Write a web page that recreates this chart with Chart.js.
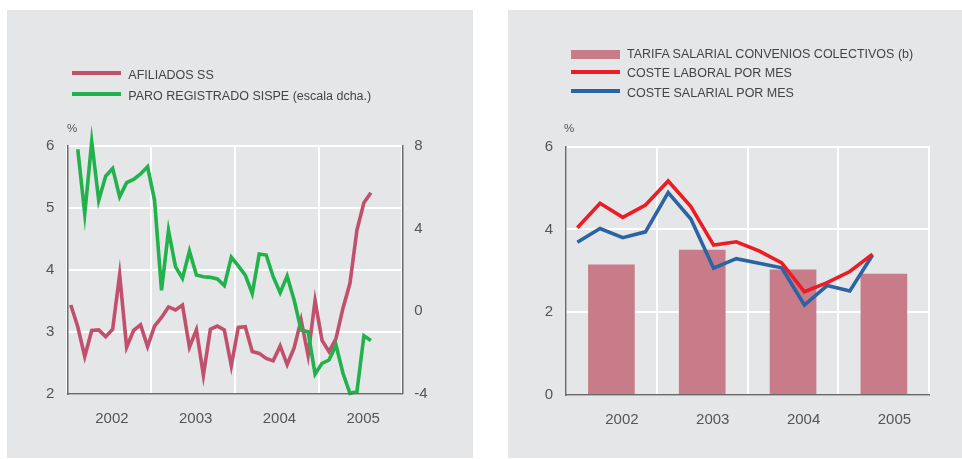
<!DOCTYPE html>
<html>
<head>
<meta charset="utf-8">
<script src="https://cdn.jsdelivr.net/npm/chart.js@4/dist/chart.umd.min.js"></script>
<style>
  body { margin: 0; background: #fff; width: 962px; height: 459px; position: relative; overflow: hidden;
         font-family: "Liberation Sans", Arial, sans-serif; }
  .panel { position: absolute; background: #e5e6e8; }
  .panel canvas { position: absolute; left: 0; top: 0; }
  .sw { position: absolute; width: 49px; }
  .lbl { position: absolute; font-size: 12.5px; line-height: 16px; color: #444; white-space: nowrap; }
  .pct { position: absolute; font-size: 11.5px; line-height: 16px; color: #555; }
</style>
</head>
<body>
<div class="panel" id="p1" style="left:7px;top:10px;width:466px;height:448px">
  <canvas id="c1" width="466" height="448"></canvas>
  <div class="sw" style="left:65px;top:61.3px;height:4px;background:#c0506c"></div>
  <div class="lbl" style="left:121.3px;top:57px">AFILIADOS SS</div>
  <div class="sw" style="left:65px;top:81.5px;height:4px;background:#22b24b"></div>
  <div class="lbl" style="left:121.3px;top:77.6px">PARO REGISTRADO SISPE (escala dcha.)</div>
  <div class="pct" style="left:60px;top:110px">%</div>
</div>
<div class="panel" id="p2" style="left:508px;top:10px;width:454px;height:448px">
  <canvas id="c2" width="454" height="448"></canvas>
  <div class="sw" style="left:63px;top:40px;height:8.5px;background:#c87c89"></div>
  <div class="lbl" style="left:119px;top:36.4px">TARIFA SALARIAL CONVENIOS COLECTIVOS (b)</div>
  <div class="sw" style="left:63px;top:59.7px;height:4px;background:#ed1c24"></div>
  <div class="lbl" style="left:119px;top:55.4px">COSTE LABORAL POR MES</div>
  <div class="sw" style="left:63px;top:79px;height:4px;background:#2b63a3"></div>
  <div class="lbl" style="left:119px;top:75.4px">COSTE SALARIAL POR MES</div>
  <div class="pct" style="left:56px;top:110px">%</div>
</div>
<script>
// años del eje x
const yearLabels = ["2002", "2003", "2004", "2005"];

// gráfico izquierdo: datos mensuales ene-2002 .. ago-2005
const afiliados = [3.43, 3.08, 2.6, 3.02, 3.03, 2.92, 3.04, 3.92, 2.75, 3.02, 3.11, 2.76,
  3.09, 3.23, 3.4, 3.35, 3.43, 2.75, 3.03, 2.3, 3.04, 3.09, 3.03, 2.45,
  3.07, 3.08, 2.68, 2.65, 2.57, 2.53, 2.77, 2.47, 2.74, 3.19, 2.62, 3.5,
  2.86, 2.68, 2.89, 3.38, 3.78, 4.64, 5.08, 5.24];
const paroSispe = [null, 7.83, 4.7, 8.2, 5.35, 6.53, 6.9, 5.53, 6.21, 6.37, 6.63, 6.98,
  5.37, 1.0, 3.9, 2.15, 1.58, 2.9, 1.74, 1.66, 1.63, 1.55, 1.23, 2.6,
  2.18, 1.74, 0.85, 2.76, 2.71, 1.66, 0.89, 1.69, 0.53, -0.92, -1.0, -3.05,
  -2.53, -2.37, -1.65, -3.01, -3.98, -3.9, -1.2, -1.43];

// gráfico derecho: tarifa anual y costes trimestrales (I-2002 .. II-2005)
const tarifaSalarial = [3.14, 3.5, 3.02, 2.92];
const costeLaboral = [4.04, 4.63, 4.29, 4.59, 5.17, 4.55, 3.62, 3.70, 3.48, 3.19, 2.49, 2.71, 2.98, 3.40];
const costeSalarial = [3.69, 4.02, 3.80, 3.94, 4.89, 4.25, 3.06, 3.29, 3.18, 3.07, 2.17, 2.64, 2.51, 3.38];

const tickFont = { family: "'Liberation Sans', Arial, sans-serif", size: 15 };
const tickColor = "#555";
const gridWhite = "#ffffff";
const axisColor = "#6a6a6a";

const toPoints = (arr) => arr.map((v, i) => ({ x: i + 0.5, y: v }));
const yearTick = (per) => (v) => {
  const k = (v - per / 2) / per;
  return Number.isInteger(k) && yearLabels[k] ? yearLabels[k] : "";
};

new Chart(document.getElementById("c1"), {
  type: "line",
  data: {
    datasets: [
      { label: "PARO REGISTRADO SISPE (escala dcha.)", data: toPoints(paroSispe), yAxisID: "y1",
        borderColor: "#22b24b", borderWidth: 3.6, pointRadius: 0, tension: 0, clip: false,
        borderJoinStyle: "miter", spanGaps: false, order: 0 },
      { label: "AFILIADOS SS", data: toPoints(afiliados), yAxisID: "y",
        borderColor: "#c0506c", borderWidth: 3.6, pointRadius: 0, tension: 0, clip: false,
        borderJoinStyle: "miter", order: 1 },
    ],
  },
  options: {
    responsive: false,
    animation: false,
    layout: { padding: { top: 135.7, left: 0, right: 0, bottom: 0 } },
    plugins: { legend: { display: false }, tooltip: { enabled: false } },
    scales: {
      x: {
        type: "linear", min: 0, max: 48, offset: false,
        afterFit: (s) => { s.height = 64.3; },
        ticks: { stepSize: 6, autoSkip: false, maxRotation: 0, padding: 16, labelOffset: 2.7,
          font: tickFont, color: tickColor, callback: yearTick(12) },
        grid: { drawTicks: false, lineWidth: 2,
          color: (ctx) => (ctx.tick && ctx.tick.value % 12 === 0 ? gridWhite : "rgba(0,0,0,0)") },
        border: { color: axisColor, width: 1.5, z: 1 },
      },
      y: {
        position: "left", min: 2, max: 6,
        afterFit: (s) => { s.width = 60.3; },
        ticks: { stepSize: 1, padding: 13, font: tickFont, color: tickColor },
        grid: { drawTicks: false, lineWidth: 2, color: gridWhite },
        border: { color: axisColor, width: 1.5, z: 1 },
      },
      y1: {
        position: "right", min: -4, max: 8,
        afterFit: (s) => { s.width = 70.7; },
        ticks: { stepSize: 4, padding: 12, font: tickFont, color: tickColor },
        grid: { display: false, drawTicks: false },
        border: { color: axisColor, width: 1.5, z: 1 },
      },
    },
  },
});

new Chart(document.getElementById("c2"), {
  type: "line",
  data: {
    datasets: [
      { label: "COSTE LABORAL POR MES", data: toPoints(costeLaboral),
        borderColor: "#ed1c24", borderWidth: 3.6, pointRadius: 0, tension: 0, clip: false,
        borderJoinStyle: "miter", order: 0 },
      { label: "COSTE SALARIAL POR MES", data: toPoints(costeSalarial),
        borderColor: "#2b63a3", borderWidth: 3.6, pointRadius: 0, tension: 0, clip: false,
        borderJoinStyle: "miter", order: 1 },
      { type: "bar", label: "TARIFA SALARIAL CONVENIOS COLECTIVOS (b)",
        data: tarifaSalarial.map((v, i) => ({ x: i * 4 + 2, y: v })),
        backgroundColor: "#c87c89", borderWidth: 0, barThickness: 46, order: 2 },
    ],
  },
  options: {
    responsive: false,
    animation: false,
    layout: { padding: { top: 136.7, left: 0, right: 32.7, bottom: 0 } },
    plugins: { legend: { display: false }, tooltip: { enabled: false } },
    scales: {
      x: {
        type: "linear", min: 0, max: 16, offset: false,
        afterFit: (s) => { s.height = 63.3; },
        ticks: { stepSize: 2, autoSkip: false, maxRotation: 0, padding: 16, labelOffset: 10.5,
          font: tickFont, color: tickColor, callback: yearTick(4) },
        grid: { drawTicks: false, lineWidth: 2, offset: false,
          color: (ctx) => (ctx.tick && ctx.tick.value % 4 === 0 ? gridWhite : "rgba(0,0,0,0)") },
        border: { color: axisColor, width: 1.5, z: 1 },
      },
      y: {
        position: "left", min: 0, max: 6,
        afterFit: (s) => { s.width = 58; },
        ticks: { stepSize: 2, padding: 13, font: tickFont, color: tickColor },
        grid: { drawTicks: false, lineWidth: 2, color: gridWhite },
        border: { color: axisColor, width: 1.5, z: 1 },
      },
    },
  },
});
</script>
</body>
</html>
